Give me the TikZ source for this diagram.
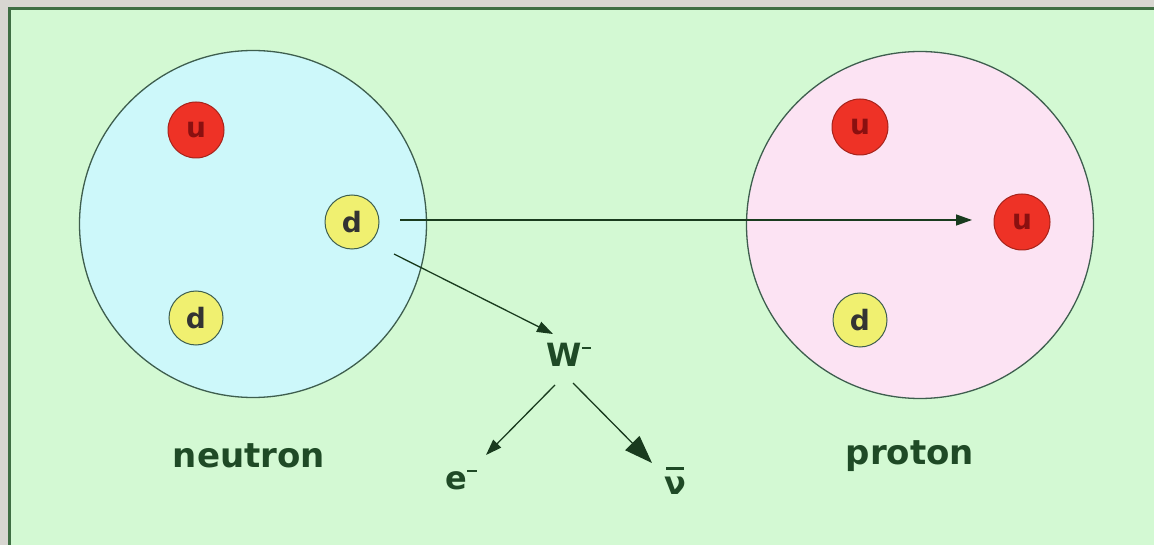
\documentclass[tikz,border=0pt]{standalone}
\usepackage{fontspec}
\setmainfont{DejaVu Sans}
\usetikzlibrary{arrows.meta}
\definecolor{bggray}{HTML}{D8D6D1}
\definecolor{panel}{HTML}{D3F9D3}
\definecolor{panelline}{HTML}{3F6E43}
\definecolor{neutfill}{HTML}{CDF8FA}
\definecolor{protfill}{HTML}{FCE3F3}
\definecolor{outline}{HTML}{3E5E4E}
\definecolor{qred}{HTML}{EE3226}
\definecolor{qyellow}{HTML}{F0F070}
\definecolor{txt}{HTML}{1F4A26}
\definecolor{redtxt}{HTML}{8A1010}
\newcommand{\supminus}{\raisebox{0.55em}{\rule{0.3em}{2.5pt}}}
\newcommand{\nubar}{\ooalign{ν\cr\hidewidth\raisebox{0.78em}{\rule{0.55em}{2.5pt}}\hidewidth\cr}}
\tikzset{
  x=1pt, y=-1pt,
  hadron/.style={circle, draw=outline, line width=1.3pt, minimum size=347pt, inner sep=0pt},
  uquark/.style={circle, draw=qred!70!black, line width=1pt, fill=qred, minimum size=56pt, inner sep=0pt, text=redtxt, font=\fontsize{28}{30}\selectfont\bfseries},
  dquark/.style={circle, draw=outline, line width=1pt, fill=qyellow, minimum size=54pt, inner sep=0pt, text=black!80, font=\fontsize{28}{30}\selectfont\bfseries},
  lbl/.style={text=txt, font=\fontsize{34}{36}\selectfont\bfseries, inner sep=0pt},
  plbl/.style={text=txt, font=\fontsize{32}{34}\selectfont\bfseries, inner sep=1pt},
  arr/.style={draw=txt!80!black, line width=1.3pt, -{Triangle[length=16pt,width=11pt]}},
  bigarr/.style={draw=txt!80!black, line width=1.3pt, -{Triangle[length=28pt,width=20pt]}}
}
\begin{document}
\begin{tikzpicture}
\useasboundingbox (0,0) rectangle (1154,545);
\fill[bggray] (0,0) rectangle (1154,545);
\fill[panel] (9,9) rectangle (1154,545);
\draw[panelline, line width=3pt] (9,545) -- (9,9) -- (1154,9);
% hadrons
\node[hadron, fill=neutfill] (neutron) at (253,224) {};
\node[hadron, fill=protfill] (proton) at (920,225) {};
% quarks
\node[uquark] (nu) at (196,130) {u};
\node[dquark] (nd1) at (352,222) {d};
\node[dquark] (nd2) at (196,318) {d};
\node[uquark] (pu1) at (860,127) {u};
\node[uquark] (pu2) at (1022,222) {u};
\node[dquark] (pd) at (860,320) {d};
% labels
\node[lbl] (nlabel) at (249,456) {neutron};
\node[lbl] (plabel) at (910,456) {proton};
\node[plbl] (W) at (569,355) {W\supminus};
\node[plbl] (e) at (461,480) {e\supminus};
\node[plbl] (antinu) at (675,486) {\nubar};
% arrows
\coordinate (hstart) at (400,220);
\coordinate (hend) at (972,220);
\draw[arr] (hstart) -- (hend);
\coordinate (dstart) at (394,254);
\coordinate (wend) at (553,334);
\draw[arr] (dstart) -- (wend);
\coordinate (wl) at (555,385);
\coordinate (el) at (486,455);
\draw[arr] (wl) -- (el);
\coordinate (wr) at (573,383);
\coordinate (nl) at (652,463);
\draw[bigarr] (wr) -- (nl);
\end{tikzpicture}
\end{document}
